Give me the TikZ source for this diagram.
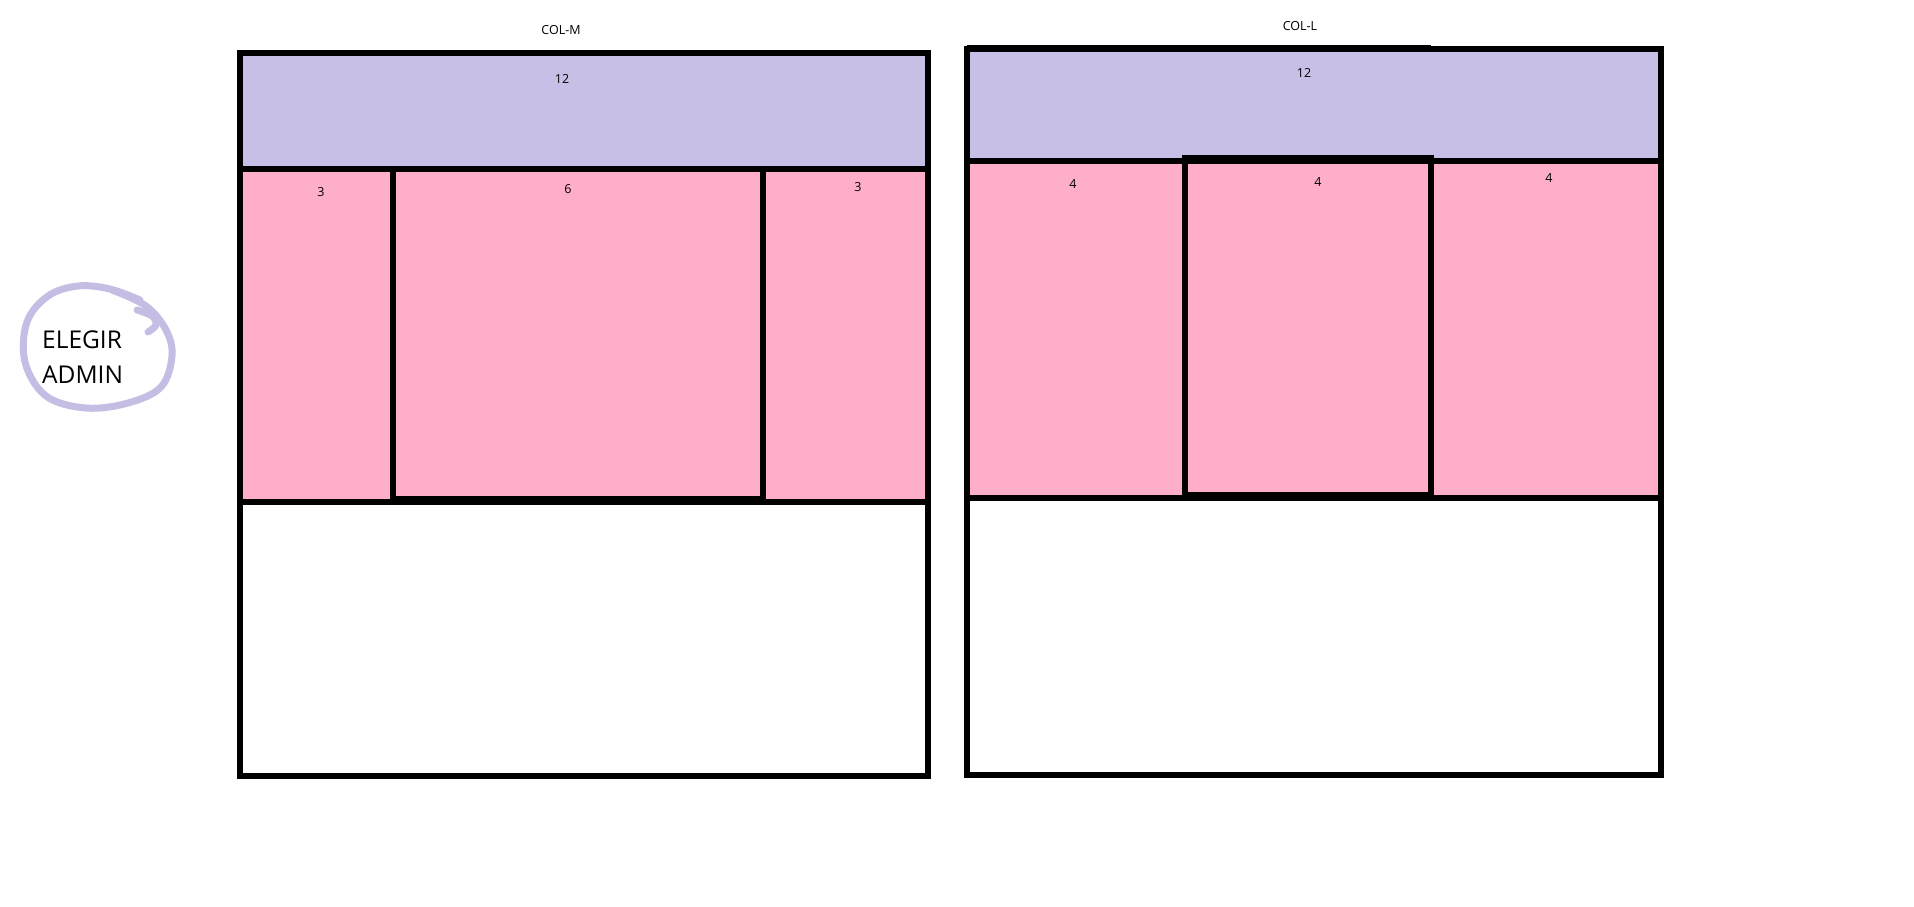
\documentclass[tikz,border=0pt]{standalone}
\usepackage{fontspec}
\setmainfont{Open Sans}
\definecolor{bandpurple}{HTML}{C7BFE6}
\definecolor{cellpink}{HTML}{FFAEC9}
\definecolor{crayon}{HTML}{C5BDE4}
\tikzset{
  frame/.style={line width=6pt, draw=black, line cap=rect},
  lbl/.style={font=\fontsize{12.5}{14}\selectfont, inner sep=0pt},
  biglbl/.style={font=\fontsize{24.5}{28}\selectfont, inner sep=0pt, anchor=west},
  crayonline/.style={draw=crayon, line width=7pt, line cap=round, line join=round}
}
\begin{document}
\begin{tikzpicture}[x=1pt,y=-1pt]
\useasboundingbox[fill=white] (0,0) rectangle (1914,906);

% ---------- left frame (COL-M) ----------
\fill[bandpurple] (240,53) rectangle (928,169);
\fill[cellpink] (240,169) rectangle (928,502);
\draw[frame] (240,53) rectangle (928,776);
\draw[frame] (240,169) -- (928,169);
\draw[frame] (240,502) -- (928,502);
\draw[frame] (393,169) -- (393,502);
\draw[frame] (763,169) -- (763,502);
\draw[frame] (393,499) -- (763,499);
\draw[line width=3pt] (240,51) -- (455,51);

\node[lbl] (colm) at (561,30) {COL-M};
\node[lbl] (m12) at (562,79) {12};
\node[lbl] (m3a) at (321,192) {3};
\node[lbl] (m6) at (568,189) {6};
\node[lbl] (m3b) at (858,187) {3};

% ---------- right frame (COL-L) ----------
\fill[bandpurple] (967,49) rectangle (1661,161);
\fill[cellpink] (967,161) rectangle (1661,498);
\draw[frame] (967,49) rectangle (1661,775);
\draw[frame] (967,161) -- (1661,161);
\draw[frame] (967,498) -- (1661,498);
\draw[frame] (1185,158) rectangle (1431,495);
\draw[line width=5pt] (967,47) -- (1431,47);

\node[lbl] (coll) at (1300,26) {COL-L};
\node[lbl] (l12) at (1304,73) {12};
\node[lbl] (l4a) at (1073,184) {4};
\node[lbl] (l4b) at (1318,182) {4};
\node[lbl] (l4c) at (1549,178) {4};

% ---------- ELEGIR ADMIN ----------
\draw[crayonline] plot[smooth, tension=0.6] coordinates {
  (112,290) (146,306) (166,330) (172,356) (161,387) (128,403)
  (86,408) (46,396) (25,362) (27,322) (48,296) (78,286) (110,289) (140,300)};
\draw[crayonline] plot[smooth, tension=0.6] coordinates {
  (137,310) (152,316) (156,325) (148,332)};
\node[biglbl] (elegir) at (42,340) {ELEGIR};
\node[biglbl] (admin) at (42,375) {ADMIN};
\end{tikzpicture}
\end{document}
